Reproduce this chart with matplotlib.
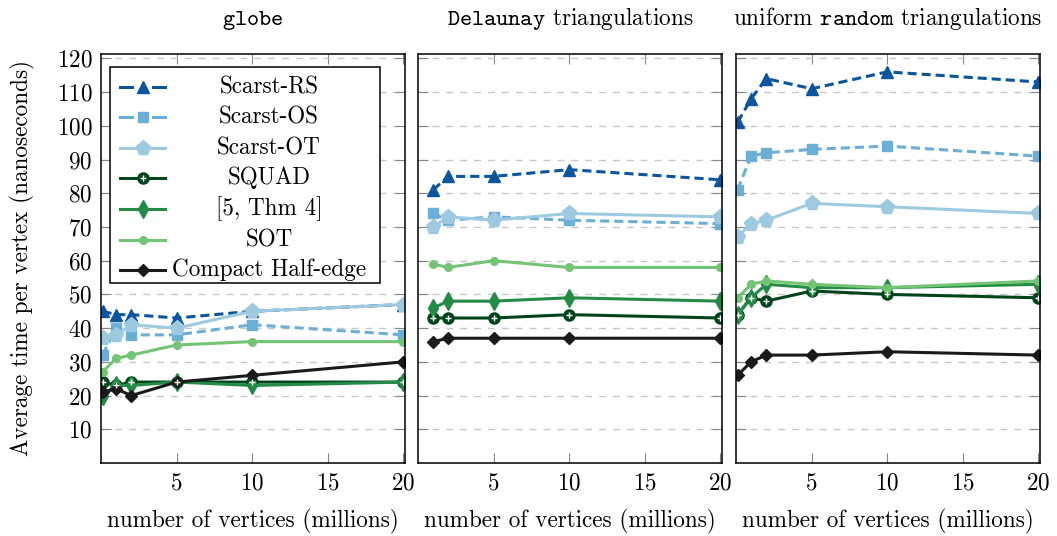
import matplotlib
matplotlib.use('Agg')
import matplotlib.pyplot as plt
from matplotlib.patches import Rectangle

plt.rcParams['font.family'] = 'cmr10'
plt.rcParams['mathtext.fontset'] = 'cm'
plt.rcParams['axes.formatter.use_mathtext'] = True
FS = 16.7
plt.rcParams['font.size'] = FS

# x values (millions of vertices) per panel
x_globe = [0.1, 1, 2, 5, 10, 20]
x_delaunay = [1, 2, 5, 10, 20]
x_random = [0.1, 1, 2, 5, 10, 20]

# globe
globe_rs = [45, 44, 44, 43, 45, 47]
globe_os = [32, 40, 38, 38, 41, 38]
globe_ot = [37, 38, 41, 40, 45, 47]
globe_squad = [24, 23, 24, 24, 24, 24]
globe_thm4 = [20, 23, 23, 24, 23, 24]
globe_sot = [27, 31, 32, 35, 36, 36]
globe_compact = [21, 22, 20, 24, 26, 30]

# Delaunay triangulations
del_rs = [81, 85, 85, 87, 84]
del_os = [74, 72, 73, 72, 71]
del_ot = [70, 73, 72, 74, 73]
del_squad = [43, 43, 43, 44, 43]
del_thm4 = [46, 48, 48, 49, 48]
del_sot = [59, 58, 60, 58, 58]
del_compact = [36, 37, 37, 37, 37]

# uniform random triangulations
rnd_rs = [101, 108, 114, 111, 116, 113]
rnd_os = [81, 91, 92, 93, 94, 91]
rnd_ot = [67, 71, 72, 77, 76, 74]
rnd_squad = [44, 49, 48, 51, 50, 49]
rnd_thm4 = [44, 49, 53, 52, 52, 53]
rnd_sot = [49, 53, 54, 53, 52, 54]
rnd_compact = [26, 30, 32, 32, 33, 32]

labels = ['Scarst-RS', 'Scarst-OS', 'Scarst-OT', 'SQUAD', '[5, Thm 4]', 'SOT', 'Compact Half-edge']
titles = [r'$\mathtt{globe}$', r'$\mathtt{Delaunay}$ triangulations', r'uniform $\mathtt{random}$ triangulations']

styles = [
    dict(color='#0b559f', ls=(0, (3, 1.6)), marker='^', ms=8.5),
    dict(color='#6baed6', ls=(0, (3, 1.6)), marker='s', ms=7.5),
    dict(color='#9ecae1', ls='-', marker='p', ms=11),
    dict(color='#00441b', ls='-', marker='o', ms=8),
    dict(color='#238b45', ls='-', marker='d', ms=9),
    dict(color='#74c476', ls='-', marker='o', ms=5.5),
    dict(color='#1a1a1a', ls='-', marker='D', ms=6.5),
]

panels = [
    (x_globe, [globe_rs, globe_os, globe_ot, globe_squad, globe_thm4, globe_sot, globe_compact]),
    (x_delaunay, [del_rs, del_os, del_ot, del_squad, del_thm4, del_sot, del_compact]),
    (x_random, [rnd_rs, rnd_os, rnd_ot, rnd_squad, rnd_thm4, rnd_sot, rnd_compact]),
]

W, H = 1057, 536
fig = plt.figure(figsize=(W / 100, H / 100), dpi=100)
lefts = [101, 418, 736]
axes = []
for i, left in enumerate(lefts):
    ax = fig.add_axes([left / W, 1 - 463 / H, 304 / W, 409 / H])
    axes.append(ax)
    xs, series = panels[i]
    for ys, st in zip(series, styles):
        ax.plot(xs, ys, color=st['color'], ls=st['ls'], lw=2.2, marker=st['marker'],
                ms=st['ms'], mfc=st['color'], mec=st['color'])
    # white cross inside the SQUAD markers
    ax.plot(xs, series[3], ls='none', marker='+', ms=5, mec='white', mew=1.0)
    ax.set_xlim(0, 20.1)
    ax.set_ylim(0, 121.3)
    ax.set_xticks([5, 10, 15, 20])
    ax.set_yticks(range(10, 121, 10))
    ax.grid(axis='y', ls=(0, (5, 5)), color='#c8c8c8', lw=1)
    ax.tick_params(direction='in', top=True, right=True, length=7, color='#888888',
                   labelsize=FS)
    ax.tick_params(axis='x', pad=7)
    ax.tick_params(axis='y', pad=6)
    if i > 0:
        ax.tick_params(labelleft=False)
    for sp in ax.spines.values():
        sp.set_linewidth(1.1)
    ax.set_xlabel('number of vertices (millions)', fontsize=FS, labelpad=10)
    ax.set_title(titles[i], fontsize=FS, pad=21)

axes[0].set_ylabel('Average time per vertex (nanoseconds)', fontsize=FS, labelpad=16)

# legend box drawn in the first panel
ax = axes[0]
def fy(y):
    return (463 - y) / 409
def fx(x):
    return (x - 101) / 304

ax.add_patch(Rectangle((fx(110), fy(283)), fx(380) - fx(110), fy(67) - fy(283),
                       transform=ax.transAxes, facecolor='white', edgecolor='black',
                       lw=1.1, zorder=5, clip_on=False))
rows = [87, 117, 148, 178, 209, 240, 270]
for lab, st, yy in zip(labels, styles, rows):
    if st['ls'] == '-':
        ax.plot([fx(120), fx(165)], [fy(yy)] * 2, color=st['color'], lw=2.2,
                transform=ax.transAxes, zorder=6, clip_on=False)
    else:
        ax.plot([fx(120), fx(132)], [fy(yy)] * 2, color=st['color'], lw=2.2,
                transform=ax.transAxes, zorder=6, clip_on=False)
        ax.plot([fx(153), fx(165)], [fy(yy)] * 2, color=st['color'], lw=2.2,
                transform=ax.transAxes, zorder=6, clip_on=False)
    ax.plot([fx(142.5)], [fy(yy)], marker=st['marker'], ms=st['ms'], color=st['color'],
            transform=ax.transAxes, zorder=7, clip_on=False)
    if lab == 'SQUAD':
        ax.plot([fx(142.5)], [fy(yy)], marker='+', ms=5, mec='white', mew=1.0,
                transform=ax.transAxes, zorder=8, clip_on=False)
    ax.text(fx(269), fy(yy), lab, transform=ax.transAxes, ha='center', va='center',
            fontsize=FS, zorder=8)

fig.savefig('out.png', dpi=100)
